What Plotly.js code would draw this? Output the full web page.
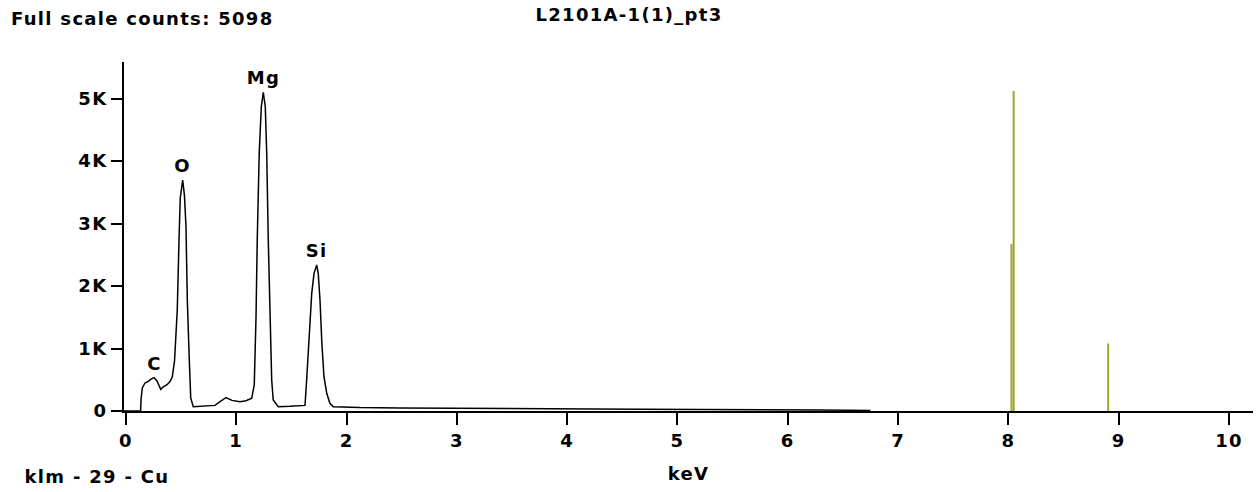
<!DOCTYPE html>
<html>
<head>
<meta charset="utf-8">
<script src="https://cdn.plot.ly/plotly-3.0.1.min.js"></script>
<style>
html,body{margin:0;padding:0;background:#fff;}
#chart{width:1258px;height:492px;}
#chart svg text{letter-spacing:1.3px;}
</style>
</head>
<body>
<div id="chart"></div>
<script>
// Spectrum (energy in keV, counts)
const energyKeV = [-0.018,0.133,0.136,0.148,0.172,0.199,0.227,0.254,0.281,0.315,0.335,0.372,0.399,0.420,0.440,0.449,0.465,0.480,0.492,0.514,0.530,0.544,0.556,0.574,0.587,0.610,0.671,0.762,0.807,0.852,0.907,0.961,1.034,1.088,1.140,1.163,1.179,1.190,1.208,1.227,1.245,1.263,1.276,1.290,1.306,1.321,1.335,1.381,1.487,1.623,1.638,1.662,1.684,1.705,1.729,1.743,1.759,1.776,1.795,1.820,1.849,1.879,1.995,2.12,2.48,3.03,3.84,4.66,5.20,5.84,6.29,6.75];
const counts    = [0,0,176,368,448,470,510,533,480,347,384,420,470,548,800,1100,1616,2688,3408,3696,3450,2949,1776,816,208,69,75,80,90,150,213,170,149,165,203,416,1509,2736,4123,4869,5098,4869,4123,2736,1349,496,176,69,75,90,496,1189,1883,2203,2336,2203,1776,1083,549,283,123,69,60,55,50,40,35,30,28,20,15,10];

// Element peak labels
const peakLabels = ["C","O","Mg","Si"];
const peakE = [0.254,0.514,1.245,1.729];
const peakH = [533,3696,5098,2336];

// Cu reference lines (klm - 29 - Cu)
const cuLineE = [8.028,8.048,8.905];
const cuLineH = [2670,5120,1080];

// Axis ticks
const yTickVals = [0,1000,2000,3000,4000,5000];
const yTickText = ["0","1K","2K","3K","4K","5K"];
const xTickVals = [0,1,2,3,4,5,6,7,8,9,10];

const fullScale = 5098;
const sampleName = "L2101A-1(1)_pt3";
const markerText = "klm - 29 - Cu";

const FONT = "'DejaVu Sans', sans-serif";
const FS = 18;

const lx = [], ly = [];
cuLineE.forEach((e,i)=>{ lx.push(e,e,null); ly.push(0,cuLineH[i],null); });

const traces = [
  {x: lx, y: ly, type:'scatter', mode:'lines', line:{color:'#a3a32a', width:2}, hoverinfo:'skip'},
  {x: energyKeV, y: counts, type:'scatter', mode:'lines', line:{color:'#000', width:1.5}}
];

const annotations = peakLabels.map((t,i)=>({
  x: peakE[i], y: peakH[i], text: t, showarrow:false, yanchor:'bottom', yshift:2,
  font:{family:FONT, size:FS, color:'#000', weight:'bold'}
}));
annotations.push({xref:'paper', yref:'paper', x:0, y:1, xanchor:'left', yanchor:'middle', xshift:-100, yshift:44,
  text:'Full scale counts: ' + fullScale, showarrow:false, font:{family:FONT,size:FS,color:'#000',weight:'bold'}});
annotations.push({xref:'paper', yref:'paper', x:0, y:0, xanchor:'left', yanchor:'middle', xshift:-93, yshift:-65,
  text: markerText, showarrow:false, font:{family:FONT,size:FS,color:'#000',weight:'bold'}});

const layout = {
  width:1258, height:492,
  margin:{l:124, r:5, t:62, b:81},
  paper_bgcolor:'#fff', plot_bgcolor:'#fff',
  showlegend:false,
  title:{text: sampleName, x:0.5, xref:'container', xanchor:'center', y:1, yref:'container', yanchor:'top', pad:{t:8},
    font:{family:FONT,size:FS,color:'#000',weight:'bold'}},
  xaxis:{range:[-0.018,10.218], tickvals:xTickVals, ticks:'outside', ticklen:12, tickwidth:2, tickcolor:'#000',
    showline:true, linecolor:'#000', linewidth:2, showgrid:false, zeroline:false,
    tickfont:{family:FONT,size:FS,color:'#000',weight:'bold'},
    title:{text:'keV', standoff:18, font:{family:FONT,size:FS,color:'#000',weight:'bold'}}},
  yaxis:{range:[0,5584], tickvals:yTickVals, ticktext:yTickText, ticks:'outside', ticklen:11, tickwidth:2, tickcolor:'#000',
    showline:true, linecolor:'#000', linewidth:2, showgrid:false, zeroline:false,
    tickfont:{family:FONT,size:FS,color:'#000',weight:'bold'}},
  annotations: annotations
};

Plotly.newPlot('chart', traces, layout, {displayModeBar:false, staticPlot:true});
</script>
</body>
</html>
